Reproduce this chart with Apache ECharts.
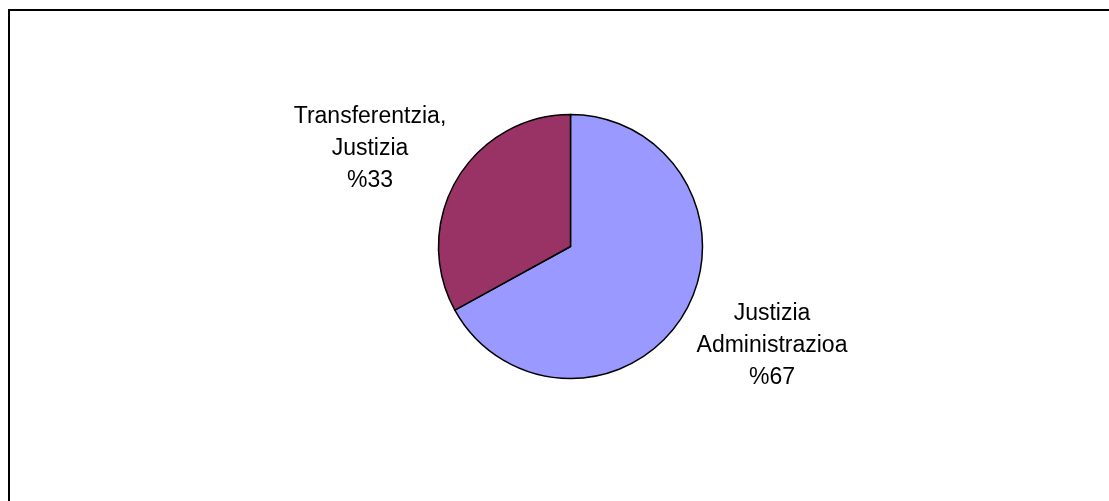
<!DOCTYPE html>
<html>
<head>
<meta charset="utf-8">
<script src="https://cdn.jsdelivr.net/npm/echarts@6/dist/echarts.min.js"></script>
<style>
html,body{margin:0;padding:0;background:#fff;}
#chart{width:1109px;height:501px;}
</style>
</head>
<body>
<div id="chart"></div>
<script>
const categories = ["Justizia\nAdministrazioa", "Transferentzia,\nJustizia"];
const values = [67, 33];
const colors = ["#9999FF", "#993366"];

const chart = echarts.init(document.getElementById('chart'), null, {renderer: 'canvas'});
const labelPos = [
  {x: 772, y: 346},
  {x: 370, y: 149}
];
chart.setOption({
  backgroundColor: '#ffffff',
  animation: false,
  graphic: [{
    type: 'rect',
    shape: {x: 9, y: 10, width: 1200, height: 600},
    style: {fill: 'none', stroke: '#000', lineWidth: 2},
    silent: true
  }],
  series: [{
    type: 'pie',
    center: [570.5, 246.5],
    radius: [0, 132],
    startAngle: 90,
    clockwise: true,
    data: categories.map((c, i) => ({
      name: c,
      value: values[i],
      itemStyle: {color: colors[i]}
    })),
    itemStyle: {borderColor: '#000', borderWidth: 1.5},
    emphasis: {disabled: true},
    label: {
      show: true,
      position: 'outside',
      formatter: p => p.name + '\n%' + p.value,
      fontFamily: 'Liberation Sans, Arial, sans-serif',
      fontSize: 23,
      lineHeight: 32,
      color: '#000',
      align: 'center'
    },
    labelLine: {show: false},
    labelLayout: p => ({
      x: labelPos[p.dataIndex].x,
      y: labelPos[p.dataIndex].y,
      align: 'center',
      verticalAlign: 'middle'
    })
  }]
});
</script>
</body>
</html>
